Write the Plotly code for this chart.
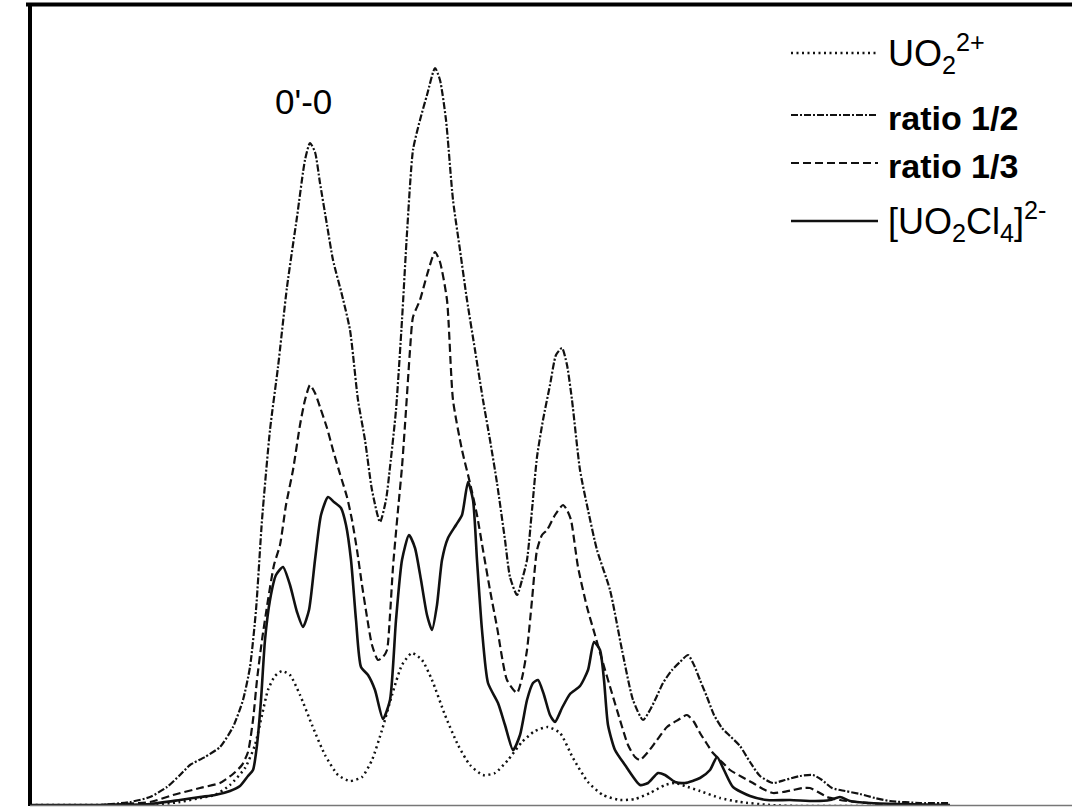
import plotly.graph_objects as go

# Emission profiles (arbitrary units, baseline = 0)
uo2_x = [30, 100, 150, 180, 200, 215, 230, 245, 255, 262, 268, 275, 282, 290, 300, 312, 325, 338, 350,
         362, 372, 382, 392, 402, 412, 422, 432, 445, 458, 470, 483, 495, 508, 522, 535, 548, 560, 573,
         588, 603, 620, 635, 650, 665, 675, 685, 700, 720, 740, 770, 800, 850, 900, 950]
uo2_y = [1, 1, 1, 4, 8, 11, 21, 38, 61, 91, 116, 130, 135, 131, 111, 81, 51, 31, 25,
         29, 46, 76, 111, 141, 153, 146, 126, 91, 61, 41, 31, 33, 46, 64, 75, 79, 73, 48,
         24, 11, 6, 7, 13, 21, 23, 20, 15, 8, 4, 1, 0, 0, 0, 0]

r12_x = [30, 100, 130, 150, 167, 180, 190, 205, 220, 233, 243, 250, 256, 262, 270, 278, 287, 297, 305,
         310, 315, 320, 327, 333, 342, 350, 358, 365, 372, 380, 386, 390, 396, 402, 407, 413, 420, 427,
         435, 440, 446, 453, 460, 467, 475, 483, 490, 497, 505, 510, 517, 522, 527, 532, 537, 543, 550,
         556, 562, 567, 572, 580, 588, 597, 610, 622, 633, 643, 650, 656, 663, 672, 680, 688, 694, 700,
         707, 714, 722, 730, 740, 750, 760, 773, 785, 800, 813, 822, 832, 845, 860, 875, 890, 920, 950]
r12_y = [1, 1, 4, 9, 19, 31, 41, 49, 59, 79, 106, 139, 196, 286, 376, 439, 519, 589, 646,
         663, 654, 623, 581, 546, 511, 476, 406, 366, 316, 284, 306, 339, 396, 486, 573, 656, 686, 711,
         738, 726, 686, 606, 556, 506, 456, 406, 366, 323, 266, 229, 211, 226, 246, 296, 349, 386, 421,
         451, 458, 441, 406, 336, 296, 256, 216, 156, 106, 86, 96, 108, 123, 136, 144, 151, 141, 126,
         109, 91, 78, 70, 60, 44, 30, 23, 26, 30, 31, 26, 18, 15, 12, 8, 5, 3, 3]

r13_x = [30, 100, 150, 173, 200, 220, 233, 242, 248, 253, 257, 262, 268, 274, 280, 286, 293, 300, 305,
         310, 315, 320, 327, 333, 340, 347, 352, 357, 362, 367, 372, 378, 383, 387, 390, 393, 398, 402,
         406, 410, 413, 420, 427, 435, 440, 447, 453, 462, 470, 477, 483, 490, 497, 507, 517, 522, 527,
         532, 537, 542, 547, 555, 563, 567, 571, 578, 587, 595, 603, 611, 620, 628, 635, 640, 648, 657,
         667, 678, 687, 694, 700, 707, 713, 722, 730, 742, 753, 763, 773, 783, 793, 803, 810, 818, 827,
         840, 857, 880, 920, 950]
r13_y = [1, 1, 4, 11, 18, 23, 32, 41, 54, 86, 126, 166, 206, 241, 261, 301, 336, 381, 406,
         421, 413, 399, 378, 356, 332, 309, 286, 256, 221, 189, 161, 146, 149, 156, 191, 239, 296, 339,
         396, 456, 489, 506, 531, 554, 544, 506, 406, 356, 323, 291, 256, 216, 179, 126, 113, 128, 156,
         206, 256, 271, 276, 291, 301, 296, 286, 239, 199, 171, 143, 116, 86, 61, 49, 46, 54, 66,
         79, 86, 91, 84, 73, 62, 53, 44, 36, 29, 23, 17, 13, 14, 16, 18, 18, 14, 9,
         6, 4, 2, 1, 1]

cl4_x = [30, 100, 150, 180, 200, 215, 230, 240, 248, 253, 257, 261, 265, 270, 276, 283, 290, 297, 303,
         309, 315, 321, 328, 334, 341, 346, 351, 356, 361, 368, 375, 383, 390, 396, 402, 409, 415, 421,
         427, 432, 437, 442, 448, 456, 462, 468, 473, 477, 482, 488, 498, 505, 513, 520, 527, 533, 538,
         544, 550, 555, 562, 570, 580, 588, 594, 600, 604, 608, 615, 625, 640, 648, 658, 665, 675, 685,
         700, 710, 717, 724, 733, 750, 767, 790, 815, 830, 840, 850, 870, 900, 950]
cl4_y = [1, 1, 2, 6, 9, 11, 15, 20, 30, 36, 61, 106, 166, 206, 231, 239, 221, 194, 179,
         196, 246, 291, 309, 304, 298, 281, 246, 186, 139, 131, 116, 87, 106, 186, 246, 271, 258, 226,
         191, 176, 201, 246, 268, 281, 291, 324, 306, 246, 176, 123, 103, 81, 56, 71, 106, 123, 126,
         111, 91, 84, 98, 112, 120, 136, 164, 156, 126, 81, 56, 41, 21, 23, 33, 31, 24, 23,
         28, 36, 49, 36, 19, 10, 6, 6, 5, 6, 9, 5, 3, 2, 1]

LINE_COLOR = "#111111"

series = [
    ("UO2 2+", uo2_x, uo2_y, dict(width=2.5, dash="2px,3.5px")),
    ("ratio 1/2", r12_x, r12_y, dict(width=2.2, dash="7px,2px,2px,2px")),
    ("ratio 1/3", r13_x, r13_y, dict(width=2.2, dash="8px,4px")),
    ("[UO2Cl4]2-", cl4_x, cl4_y, dict(width=2.6, dash="solid")),
]

fig = go.Figure()
for name, xs, ys, style in series:
    fig.add_trace(go.Scatter(
        x=xs, y=ys, mode="lines", name=name, showlegend=False,
        line=dict(color=LINE_COLOR, shape="spline", smoothing=0.6, **style),
        hoverinfo="skip",
    ))

W, H = 1072, 807
ML, MR, MT, MB = 30, 0, 5, 1
PW, PH = W - ML - MR, H - MT - MB


def px(xpix):
    return (xpix - ML) / PW


def py(ypix):
    return (H - MB - ypix) / PH


shapes = [
    # frame: heavy top and left edges, thin grey baseline
    dict(type="line", xref="paper", yref="paper", x0=px(26), x1=1, y0=py(4.5), y1=py(4.5),
         line=dict(color="black", width=4)),
    dict(type="line", xref="paper", yref="paper", x0=px(30), x1=px(30), y0=0, y1=py(3),
         line=dict(color="black", width=4)),
    dict(type="line", xref="paper", yref="paper", x0=0, x1=1, y0=py(805.5), y1=py(805.5),
         line=dict(color="#777777", width=1.5)),
]

LABEL_FONT = "Liberation Sans, Arial, sans-serif"
legend_rows = [
    (53, "UO<sub>2</sub><sup>2+</sup>", 53, dict(family=LABEL_FONT, size=36)),
    (115, "ratio 1/2", 118, dict(family=LABEL_FONT, size=34, weight="bold")),
    (163, "ratio 1/3", 166, dict(family=LABEL_FONT, size=34, weight="bold")),
    (221, "[UO<sub>2</sub>Cl<sub>4</sub>]<sup>2-</sup>", 221, dict(family=LABEL_FONT, size=36)),
]

annotations = []
for (line_y, label, text_y, font), (_, _, _, style) in zip(legend_rows, series):
    shapes.append(dict(type="line", xref="paper", yref="paper",
                       x0=px(791), x1=px(878), y0=py(line_y), y1=py(line_y),
                       line=dict(color=LINE_COLOR, width=style["width"], dash=style["dash"])))
    annotations.append(dict(xref="paper", yref="paper", x=px(886), y=py(text_y),
                            xanchor="left", yanchor="middle", showarrow=False,
                            text=label, font=dict(color="black", **font)))

annotations.append(dict(xref="x", yref="y", x=303, y=705, text="0'-0", showarrow=False,
                        xanchor="center", yanchor="middle",
                        font=dict(family=LABEL_FONT, size=35, color="black")))

fig.update_layout(
    width=W, height=H,
    margin=dict(l=ML, r=MR, t=MT, b=MB, pad=0),
    paper_bgcolor="white", plot_bgcolor="white",
    xaxis=dict(range=[ML, W - MR], visible=False, fixedrange=True),
    yaxis=dict(range=[0, PH], visible=False, fixedrange=True),
    shapes=shapes,
    annotations=annotations,
)

fig.write_html("out.html")
